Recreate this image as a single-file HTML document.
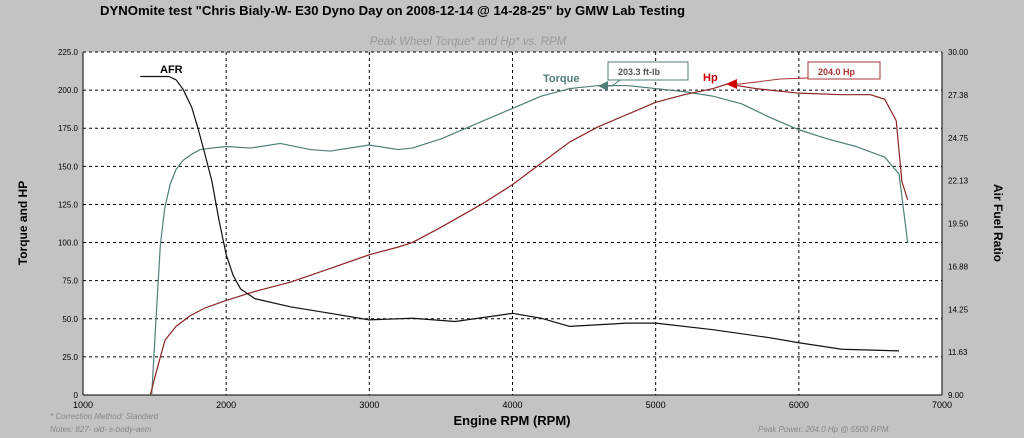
<!DOCTYPE html>
<html><head><meta charset="utf-8"><style>
body{margin:0;width:1024px;height:438px;background:#c3c3c3;overflow:hidden;font-family:"Liberation Sans",sans-serif}
svg{position:absolute;left:0;top:0}
</style></head><body>
<svg width="1024" height="438" id="c">
<text x="100" y="15" font-size="12.5" font-weight="bold" textLength="585" lengthAdjust="spacingAndGlyphs">DYNOmite test "Chris Bialy-W- E30 Dyno Day on 2008-12-14 @ 14-28-25" by GMW Lab Testing</text>
<text x="468" y="45" font-size="11.5" font-style="italic" fill="#999" text-anchor="middle">Peak Wheel Torque* and Hp* vs. RPM</text>
<rect x="83" y="52" width="859" height="343" fill="#fff"/>
<g id="grid"></g><g id="series"></g>
<text x="512" y="425" font-size="13" font-weight="bold" text-anchor="middle">Engine RPM (RPM)</text>
<text transform="translate(27,223) rotate(-90)" font-size="12" font-weight="bold" text-anchor="middle">Torque and HP</text>
<text transform="translate(994,223) rotate(90)" font-size="12" font-weight="bold" text-anchor="middle">Air Fuel Ratio</text>
<text x="50" y="419" font-size="8" font-style="italic" fill="#888">* Correction Method: Standard</text>
<text x="50" y="432" font-size="8" font-style="italic" fill="#888">Notes: 827- old- s-body-aem</text>
<text x="758" y="432" font-size="8" font-style="italic" fill="#888">Peak Power: 204.0 Hp @ 5500 RPM</text>
</svg>
<script>
const rpmTicks=[1000,2000,3000,4000,5000,6000,7000];
const leftTicks=[0,25,50,75,100,125,150,175,200,225];
const rightTicks=["9.00","11.63","14.25","16.88","19.50","22.13","24.75","27.38","30.00"];
const torqueRpm=[1480,1510,1540,1570,1608,1650,1700,1760,1818,1900,2000,2168,2378,2587,2727,3000,3200,3300,3500,3800,4000,4200,4400,4600,4800,5000,5200,5400,5600,5800,6000,6200,6400,6600,6700,6760];
const torqueVal=[0,50,98,122,138,148,154,158,161,162,163,162,165,161,160,164,161,162,168,180,188,196,201,203,203,201,199,196,191,182,174,168,163,156,145,100];
const hpRpm=[1470,1520,1573,1650,1748,1850,2000,2203,2448,2727,3000,3200,3300,3500,3800,4000,4200,4400,4600,4800,5000,5200,5400,5500,5700,6000,6300,6500,6600,6680,6720,6760];
const hpVal=[0,18,36,45,52,57,62,68,74,83,92,97,100,110,126,138,152,166,176,184,192,197,201,204,201,198,197,197,194,180,140,128];
const afrRpm=[1400,1600,1650,1700,1760,1804,1850,1900,1950,2000,2050,2100,2200,2448,2727,3000,3300,3600,4000,4200,4400,4800,5000,5400,5800,6000,6300,6700];
const afrVal=[28.5,28.5,28.3,27.7,26.6,25.3,23.8,22.1,19.7,17.6,16.3,15.5,14.9,14.4,14.0,13.6,13.7,13.5,14.0,13.7,13.2,13.4,13.4,13.0,12.5,12.2,11.8,11.7];
const NS="http://www.w3.org/2000/svg";
const X=r=>83+(r-1000)*859/6000, Y=v=>395-v*343/225, YA=a=>395-(a-9)*343/21;
function mk(t,a,p){const e=document.createElementNS(NS,t);for(const k in a)e.setAttribute(k,a[k]);p.appendChild(e);return e;}
const g=document.getElementById('grid'),s=document.getElementById('series');
rpmTicks.forEach(r=>{
 const l=mk('line',{x1:X(r),x2:X(r),y1:52,y2:395,stroke:'#000','stroke-dasharray':'3,3','stroke-width':1},g);
 
 
 const t=mk('text',{x:X(r),y:408,'font-size':9,'text-anchor':'middle'},g);t.textContent=r;
 
 
});
leftTicks.forEach(v=>{
 const l=mk('line',{x1:83,x2:942,y1:Y(v),y2:Y(v),stroke:'#000','stroke-dasharray':'3,3','stroke-width':1},g);
 
 
 const t=mk('text',{x:78,y:Y(v)+3,'font-size':8,'text-anchor':'end'},g);t.textContent=v===0?'0':v.toFixed(1);
 
 
});
rightTicks.forEach((v,i)=>{
 const t=mk('text',{x:948,y:395-i*343/8+3,'font-size':8},g);t.textContent=v;
 
 
});
mk('line',{x1:83,x2:942,y1:395,y2:395,stroke:'#000'},g);
mk('line',{x1:83,x2:83,y1:52,y2:395,stroke:'#000'},g);
mk('line',{x1:942,x2:942,y1:52,y2:395,stroke:'#000'},g);
function line(xs,ys,f,col,name){const p=mk('polyline',{points:xs.map((x,i)=>X(x)+','+f(ys[i])).join(' '),fill:'none',stroke:col,'stroke-width':1.2,'stroke-linejoin':'round'},s);
 
 }
line(torqueRpm,torqueVal,Y,'#4f7f78','torque-line');
line(hpRpm,hpVal,Y,'#8b2323','hp-line');
line(afrRpm,afrVal,YA,'#111','afr-line');
function lab(x,y,txt,col,name,sz){const t=mk('text',{x:x,y:y,fill:col,'font-size':sz||11,'font-weight':'bold'},s);t.textContent=txt;
 
 }
lab(160,73,'AFR','#000','afr-label');
lab(543,82,'Torque','#4f7f78','torque-label');
lab(703,81,'Hp','#c00','hp-label');
mk('rect',{x:608,y:62,width:80,height:18,fill:'#fff',stroke:'#4f7f78'},s);
lab(618,75,'203.3 ft-lb','#555','torque-peak-box',9);
mk('polyline',{points:'620,80 612,86 605,86',fill:'none',stroke:'#4f7f78'},s);
mk('polygon',{points:'598,86 608,81 608,91',fill:'#4f7f78'},s);
mk('rect',{x:808,y:62,width:72,height:17,fill:'#fff',stroke:'#a33'},s);
lab(818,75,'204.0 Hp','#a33','hp-peak-box',9);
mk('polyline',{points:'808,78 780,79 740,84 733,84',fill:'none',stroke:'#a33'},s);
mk('polygon',{points:'726,84 737,79 737,89',fill:'#c00'},s);
</script>
</body></html>
